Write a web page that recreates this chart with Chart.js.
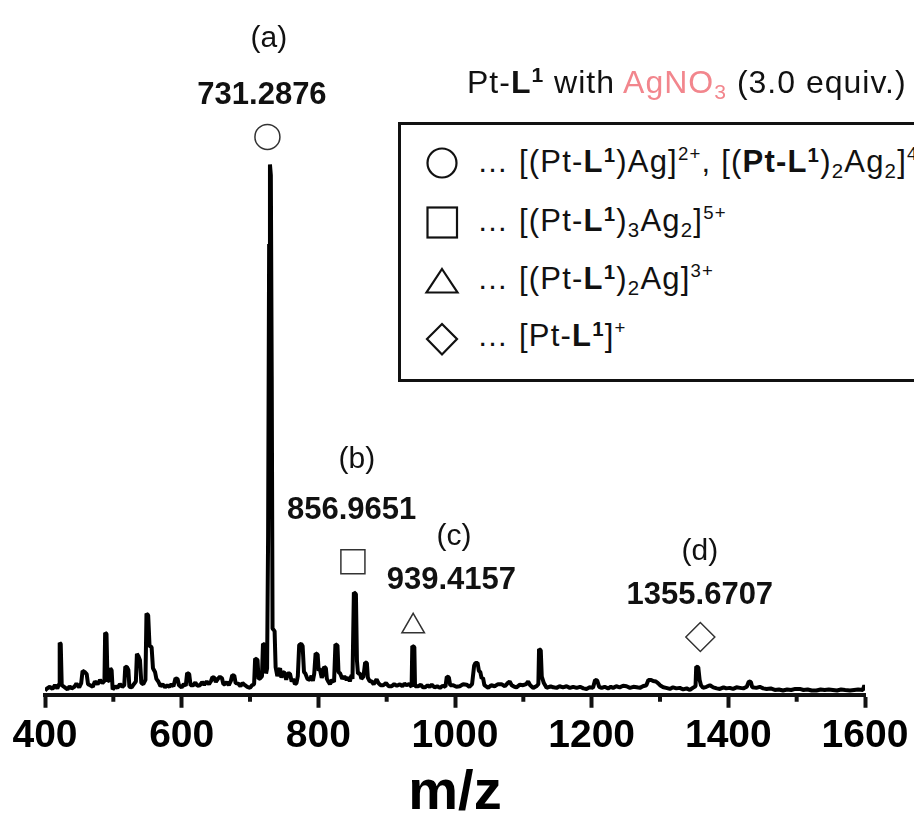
<!DOCTYPE html>
<html>
<head>
<meta charset="utf-8">
<script src="https://cdn.jsdelivr.net/npm/chart.js@4.4.1/dist/chart.umd.min.js"></script>
<style>
  html, body { margin: 0; padding: 0; background: #fff; }
  body { width: 914px; height: 821px; overflow: hidden; position: relative; font-family: 'Liberation Sans', Arial, sans-serif; }
  #wrap { position: absolute; left: 0; top: 0; width: 914px; height: 821px; }
  .txt { position: absolute; white-space: nowrap; color: #111; line-height: 1; letter-spacing: 1.2px; }
  .sup { position: relative; font-size: 0.6em; top: -0.62em; line-height: 0; }
  .supb { position: relative; font-size: 0.66em; top: -0.5em; line-height: 0; font-weight: bold; }
  .sub { position: relative; font-size: 0.66em; top: 0.28em; line-height: 0; }
  #legendBox { position: absolute; left: 398px; top: 122px; width: 640px; height: 254px; border: 3px solid #111; background: #fff; }
</style>
</head>
<body>
<div id="wrap"><canvas id="c" width="914" height="821"></canvas></div>

<div class="txt" id="title" style="left:467px; top:66px; font-size:32px; letter-spacing:1px;">Pt-<b>L</b><span class="supb">1</span> with <span style="color:#f2868d">AgNO<span class="sub">3</span></span> (3.0 equiv.)</div>

<div id="legendBox"></div>
<svg style="position:absolute; left:0; top:0;" width="914" height="821">
  <circle cx="442" cy="163" r="14.5" fill="none" stroke="#111" stroke-width="2.2"/>
  <rect x="427.5" y="207.5" width="29.5" height="30" fill="none" stroke="#111" stroke-width="2.2"/>
  <polygon points="442,269 457.5,292.5 426.5,292.5" fill="none" stroke="#111" stroke-width="2.2"/>
  <polygon points="442,324 457,339 442,354.5 427,339" fill="none" stroke="#111" stroke-width="2.2"/>
</svg>
<div class="txt" style="left:477px; top:146px; font-size:31px;">… [(Pt-<b>L</b><span class="supb">1</span>)Ag]<span class="sup">2+</span>, [(<b>Pt-L</b><span class="supb">1</span>)<span class="sub">2</span>Ag<span class="sub">2</span>]<span class="sup">4+</span></div>
<div class="txt" style="left:477px; top:205px; font-size:31px;">… [(Pt-<b>L</b><span class="supb">1</span>)<span class="sub">3</span>Ag<span class="sub">2</span>]<span class="sup">5+</span></div>
<div class="txt" style="left:477px; top:263px; font-size:31px;">… [(Pt-<b>L</b><span class="supb">1</span>)<span class="sub">2</span>Ag]<span class="sup">3+</span></div>
<div class="txt" style="left:477px; top:320px; font-size:31px;">… [Pt-<b>L</b><span class="supb">1</span>]<span class="sup">+</span></div>

<script>
// ---- data (m/z, relative intensity; base peak = 100) ----
const mz = [
  400, 403, 407, 411, 414.6, 418, 420.5, 421.5, 423, 424.5, 429, 433, 436, 439, 443, 446, 450, 453, 455, 458,
  461, 463, 466, 470, 473, 477, 480.5, 484, 487, 488, 490, 491.5, 494, 495.5, 497.5, 499, 503, 506, 509.7, 513,
  516, 517.5, 520, 522, 523.5, 526.8, 530, 533, 534.5, 537, 539, 541, 543.8, 547, 548.5, 551, 553, 556, 558, 561,
  563, 565.8, 569, 572, 575.6, 579, 582, 585, 588, 591, 594, 596, 600, 603, 606, 608, 611, 613, 617, 620,
  623, 626.8, 630, 633, 636.6, 640, 643, 645, 648, 650, 653, 656, 659, 661, 663, 666, 669, 672, 674, 677,
  679, 682.8, 686, 689, 692.6, 696, 700, 703, 706, 707.5, 711, 712.5, 715, 717.5, 719, 722, 723.5, 725, 726.5, 728,
  729.2, 730.5, 731.8, 733, 736, 737.5, 740, 742, 744, 746, 748, 751, 753, 755, 758.5, 761, 763, 765.8, 768, 770,
  772, 775, 777, 779, 781, 784, 787.7, 790, 792, 794, 796, 799, 800.5, 802, 805, 807, 808.5, 811, 812.5, 815,
  817, 820, 823, 825, 828, 829.5, 832, 835, 838, 841.4, 844, 846, 848.7, 850, 852, 855, 856.5, 858, 861, 863,
  866, 868.5, 871, 872.5, 875, 878, 881, 885.3, 888, 891, 895, 899, 903, 907.3, 911, 915, 919.4, 923, 926, 929,
  933, 936.5, 937.5, 940.5, 941.5, 946, 950, 953, 956, 960, 963, 966, 970, 974, 978, 982, 986, 988, 991, 993,
  997.4, 1002, 1007, 1012, 1017, 1021, 1025, 1028, 1030, 1033, 1035, 1037, 1039, 1041, 1043, 1048.6, 1053, 1058, 1063, 1068,
  1073, 1077, 1080, 1083, 1087, 1090, 1095, 1099.8, 1104, 1107, 1110, 1114.5, 1119, 1122, 1123, 1125.5, 1127, 1130, 1134, 1140,
  1144, 1148.7, 1153, 1158, 1163.3, 1168, 1173, 1178, 1183, 1188, 1192.5, 1197, 1202, 1205, 1208, 1211, 1214.6, 1219, 1224, 1228,
  1231.5, 1236, 1241, 1246, 1251, 1256, 1261, 1266, 1270.6, 1275, 1280, 1283, 1287, 1290, 1294, 1297, 1300, 1305, 1309, 1314.5,
  1319, 1324, 1329, 1334, 1339, 1343.7, 1348, 1352, 1353, 1356, 1358, 1360, 1363, 1368, 1373, 1378, 1383, 1387.6, 1393, 1397,
  1402, 1407, 1412, 1417, 1422, 1427, 1430, 1433, 1435, 1441, 1446, 1451, 1456, 1462, 1468, 1474, 1480, 1486, 1492, 1498,
  1504.6, 1510, 1516, 1522, 1529, 1535, 1541, 1547, 1553, 1559, 1565, 1571, 1578, 1584, 1590, 1597, 1599, 1600
];
const intensity = [
  0.8, 1.2, 1.5, 1.1, 1.8, 1.2, 2.0, 9.8, 9.6, 1.8, 1.4, 1.0, 1.6, 1.2, 1.5, 2.1, 1.4, 2.2, 4.5, 4.3,
  3.9, 2.0, 1.8, 1.5, 2.5, 2.0, 2.8, 2.2, 2.6, 11.7, 11.5, 2.5, 2.8, 5.0, 4.6, 1.0, 1.6, 1.3, 2.0, 1.5,
  1.8, 5.3, 5.2, 4.7, 1.5, 1.4, 2.0, 2.5, 7.7, 7.2, 6.5, 2.2, 2.0, 2.8, 15.3, 15.0, 9.2, 9.0, 5.0, 4.3,
  3.0, 2.5, 1.6, 2.0, 1.4, 1.8, 1.5, 2.0, 1.6, 3.1, 3.0, 1.8, 1.4, 2.0, 1.7, 4.1, 3.9, 1.8, 1.8, 2.3,
  1.7, 1.8, 2.4, 1.9, 2.5, 2.0, 2.6, 3.3, 3.2, 2.4, 3.0, 3.4, 3.1, 2.0, 2.0, 2.4, 1.8, 2.6, 3.7, 3.6,
  2.2, 2.1, 1.6, 2.2, 1.8, 1.5, 1.3, 1.8, 2.0, 6.8, 6.6, 3.0, 3.1, 3.5, 9.6, 9.4, 4.0, 5.0, 30, 85,
  100, 98, 60, 12.5, 12.0, 5.2, 3.5, 4.6, 5.0, 3.2, 4.3, 4.1, 2.8, 4.0, 4.0, 2.5, 3.0, 2.0, 2.2, 3.5,
  9.4, 9.6, 9.2, 4.3, 4.0, 3.0, 2.8, 3.6, 2.6, 4.0, 7.8, 7.6, 4.5, 5.0, 3.2, 3.8, 5.3, 5.0, 3.0, 2.4,
  2.0, 2.8, 2.4, 9.5, 9.3, 4.3, 4.0, 3.0, 3.5, 2.8, 3.3, 2.5, 3.7, 3.0, 19.3, 19.0, 6.5, 4.0, 4.0, 3.0,
  3.4, 6.1, 6.0, 3.2, 2.6, 2.5, 2.0, 2.9, 2.2, 1.8, 1.8, 2.2, 1.6, 1.6, 2.0, 1.7, 2.0, 1.6, 2.1, 1.8,
  2.0, 1.5, 9.2, 9.0, 1.6, 1.6, 1.9, 1.4, 1.4, 1.8, 1.5, 1.9, 1.4, 1.6, 1.3, 1.7, 1.5, 3.4, 3.3, 1.8,
  1.8, 1.5, 1.6, 2.0, 1.9, 1.5, 2.0, 5.5, 6.0, 6.0, 4.5, 4.3, 3.1, 3.2, 1.8, 1.3, 1.8, 1.6, 2.0, 2.0,
  1.6, 2.2, 2.5, 1.8, 1.5, 1.4, 1.9, 1.8, 2.0, 2.5, 1.8, 1.3, 1.6, 2.0, 8.6, 8.4, 3.4, 2.2, 1.3, 1.6,
  1.4, 1.3, 1.6, 1.4, 1.6, 1.3, 1.5, 1.3, 1.5, 1.2, 1.1, 1.4, 1.3, 2.8, 2.7, 1.5, 1.3, 1.5, 1.2, 1.5,
  1.3, 1.6, 1.4, 1.7, 1.6, 1.3, 1.5, 1.4, 1.3, 1.6, 1.8, 2.8, 2.8, 2.6, 2.5, 2.2, 1.8, 1.4, 1.3, 1.1,
  1.4, 1.2, 1.3, 1.0, 1.2, 0.9, 1.3, 1.6, 5.3, 5.2, 2.8, 1.8, 1.3, 1.5, 1.8, 1.4, 1.2, 1.1, 1.4, 1.2,
  1.3, 1.1, 1.4, 1.3, 1.2, 1.5, 2.5, 2.4, 1.4, 1.3, 1.5, 1.2, 1.1, 1.2, 0.9, 1.0, 0.8, 1.0, 0.9, 1.1,
  1.1, 0.9, 1.0, 0.8, 0.8, 1.0, 0.9, 1.0, 0.9, 0.8, 1.0, 0.9, 0.8, 0.9, 1.0, 0.9, 1.8, 1.3
];
const xTickValues = [400, 600, 800, 1000, 1200, 1400, 1600];
const xMinorTicks = [500, 700, 900, 1100, 1300, 1500];
const peakTags = ['(a)', '(b)', '(c)', '(d)'];
const peakValues = ['731.2876', '856.9651', '939.4157', '1355.6707'];
const xTitle = 'm/z';

// ---- annotation layout (positions in axis units) ----
const markerLayout = [
  { x: 725.5, y: 105.2, style: 'circle',   r: 12.5 },
  { x: 850.6, y: 25.1,  style: 'rect',     r: 17 },
  { x: 938.8, y: 12.9,  style: 'triangle', r: 13 },
  { x: 1359,  y: 10.9,  style: 'rectRot',  r: 14.5 }
];
const labelLayout = [
  { tagX: 727.7, tagY: 122.2, valX: 717.5, valY: 111.4 },
  { tagX: 856.5, tagY: 42.7,  valX: 848.7, valY: 33.1 },
  { tagX: 998.4, tagY: 28.3,  valX: 994.7, valY: 19.9 },
  { tagX: 1358.3, tagY: 25.5, valX: 1358.3, valY: 17.2 }
];

const FONT = "'Liberation Sans', Arial, sans-serif";

const peakLabelPlugin = {
  id: 'peakLabels',
  afterDatasetsDraw(chart) {
    const { ctx, scales: { x, y }, chartArea } = chart;
    ctx.save();
    ctx.fillStyle = '#111';
    ctx.textAlign = 'center';
    ctx.textBaseline = 'alphabetic';
    labelLayout.forEach((p, i) => {
      ctx.font = '30px ' + FONT;
      ctx.fillText(peakTags[i], x.getPixelForValue(p.tagX), y.getPixelForValue(p.tagY));
      ctx.font = 'bold 31px ' + FONT;
      ctx.fillText(peakValues[i], x.getPixelForValue(p.valX), y.getPixelForValue(p.valY));
    });
    // minor ticks
    ctx.strokeStyle = '#111';
    ctx.lineWidth = 4;
    xMinorTicks.forEach(v => {
      const px = x.getPixelForValue(v);
      ctx.beginPath();
      ctx.moveTo(px, chartArea.bottom);
      ctx.lineTo(px, chartArea.bottom + 7);
      ctx.stroke();
    });
    ctx.restore();
  }
};

new Chart(document.getElementById('c'), {
  type: 'line',
  data: {
    datasets: [
      {
        label: 'spectrum',
        data: mz.map((v, i) => ({ x: v, y: intensity[i] })),
        borderColor: '#000',
        borderWidth: 4,
        borderJoinStyle: 'bevel',
        pointRadius: 0,
        tension: 0,
        fill: false,
        order: 2
      },
      {
        label: 'markers',
        data: markerLayout.map(m => ({ x: m.x, y: m.y })),
        showLine: false,
        pointStyle: markerLayout.map(m => m.style),
        pointRadius: markerLayout.map(m => m.r),
        pointBackgroundColor: '#fff',
        pointBorderColor: '#333',
        pointBorderWidth: 1.5,
        order: 1
      }
    ]
  },
  options: {
    responsive: false,
    animation: false,
    devicePixelRatio: 1,
    layout: { padding: { left: 45, right: 49, top: 0, bottom: 0 } },
    plugins: { legend: { display: false }, tooltip: { enabled: false }, title: { display: false } },
    scales: {
      x: {
        type: 'linear',
        min: 400, max: 1600,
        afterBuildTicks: (s) => { s.ticks = xTickValues.map(v => ({ value: v })); },
        ticks: { font: { family: FONT, size: 39, weight: 'bold' }, color: '#000', padding: 5.5, maxRotation: 0, callback: (v) => String(v) },
        grid: { display: true, drawOnChartArea: false, drawTicks: true, tickLength: 13, tickWidth: 4, tickColor: '#111' },
        border: { display: true, color: '#111', width: 4 },
        title: { display: true, text: xTitle, font: { family: FONT, size: 56, weight: 'bold', lineHeight: 0.99 }, color: '#000', padding: { top: 0, bottom: 0 } }
      },
      y: { display: false, min: 0, max: 128 }
    }
  },
  plugins: [peakLabelPlugin]
});
</script>
</body>
</html>
